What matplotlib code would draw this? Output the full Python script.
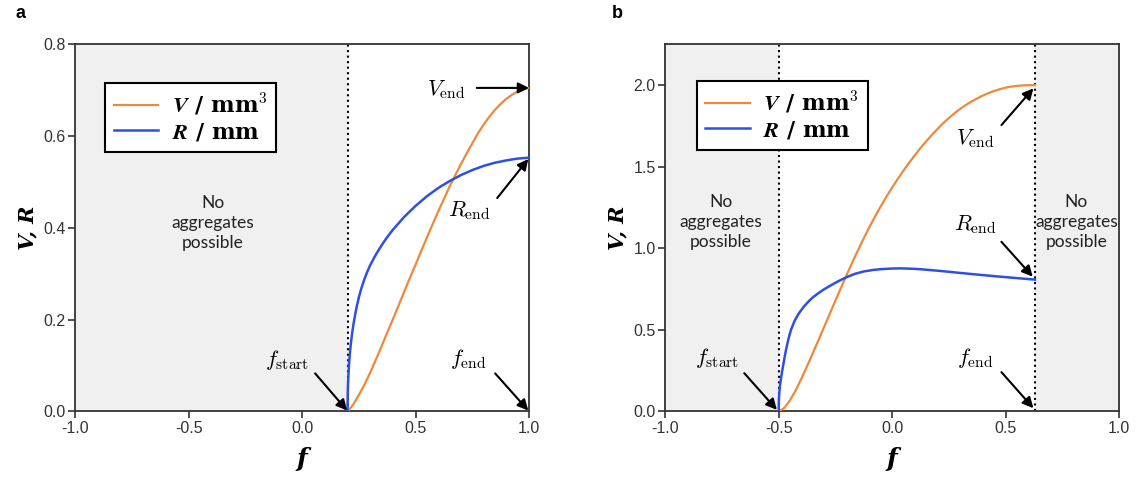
import matplotlib
matplotlib.use("Agg")
import matplotlib.pyplot as plt

plt.rcParams['axes.unicode_minus'] = False
plt.rcParams['mathtext.fontset'] = 'cm'
plt.rcParams['font.family'] = ['Liberation Sans', 'DejaVu Sans']

# panel a: aggregates possible for f_start <= f <= 1
f_a_V = [0.200, 0.225, 0.250, 0.275, 0.300, 0.325, 0.350, 0.375, 0.400, 0.425,
         0.450, 0.475, 0.500, 0.525, 0.550, 0.575, 0.600, 0.625, 0.650, 0.675,
         0.700, 0.725, 0.750, 0.775, 0.800, 0.825, 0.850, 0.875, 0.900, 0.925,
         0.950, 0.975, 1.000]
V_a = [0.000, 0.015, 0.036, 0.059, 0.085, 0.113, 0.142, 0.172, 0.201, 0.231,
       0.261, 0.291, 0.320, 0.350, 0.379, 0.408, 0.436, 0.463, 0.490, 0.515,
       0.539, 0.562, 0.584, 0.606, 0.625, 0.642, 0.657, 0.670, 0.681, 0.690,
       0.697, 0.702, 0.705]
f_a_R = [0.2000, 0.2003, 0.2010, 0.2020, 0.2035, 0.2055, 0.2080, 0.2110, 0.2150,
         0.2200, 0.2260, 0.2330, 0.2410, 0.2500, 0.2600, 0.2720, 0.2850, 0.300,
         0.325, 0.350, 0.375, 0.400, 0.450, 0.500, 0.550, 0.600, 0.650, 0.700,
         0.750, 0.800, 0.850, 0.900, 0.950, 1.000]
R_a = [0.000, 0.020, 0.040, 0.058, 0.076, 0.095, 0.113, 0.131, 0.150,
       0.170, 0.190, 0.210, 0.230, 0.249, 0.267, 0.285, 0.302, 0.319,
       0.342, 0.362, 0.380, 0.396, 0.424, 0.448, 0.469, 0.487, 0.502, 0.515,
       0.526, 0.535, 0.542, 0.547, 0.551, 0.553]

# panel b: aggregates possible for f_start <= f <= f_end
f_b_V = [-0.500, -0.475, -0.450, -0.425, -0.400, -0.375, -0.350, -0.325, -0.300,
         -0.275, -0.250, -0.225, -0.200, -0.175, -0.150, -0.125, -0.100, -0.075,
         -0.050, -0.025, 0.000, 0.025, 0.050, 0.075, 0.100, 0.125, 0.150, 0.175,
         0.200, 0.225, 0.250, 0.275, 0.300, 0.325, 0.350, 0.375, 0.400, 0.425,
         0.450, 0.475, 0.500, 0.525, 0.550, 0.575, 0.600, 0.630]
V_b = [0.000, 0.022, 0.069, 0.130, 0.201, 0.277, 0.356, 0.436, 0.517,
       0.598, 0.679, 0.759, 0.838, 0.915, 0.989, 1.061, 1.130, 1.195,
       1.257, 1.316, 1.372, 1.425, 1.476, 1.524, 1.570, 1.614, 1.655, 1.694,
       1.731, 1.766, 1.798, 1.827, 1.854, 1.878, 1.899, 1.918, 1.936, 1.951,
       1.964, 1.975, 1.984, 1.991, 1.995, 1.998, 1.999, 2.000]
f_b_R = [-0.5000, -0.4997, -0.4990, -0.4975, -0.4955, -0.4930, -0.4905, -0.488,
         -0.484, -0.480, -0.473, -0.466, -0.456, -0.446, -0.430, -0.412, -0.390,
         -0.370, -0.353, -0.330, -0.302, -0.270, -0.243, -0.206, -0.165, -0.125,
         -0.085, -0.050, 0.000, 0.037, 0.100, 0.139, 0.190, 0.243, 0.300, 0.390,
         0.460, 0.536, 0.630]
R_b = [0.000, 0.040, 0.075, 0.110, 0.143, 0.172, 0.197, 0.220,
       0.253, 0.285, 0.340, 0.390, 0.450, 0.500, 0.555, 0.600, 0.641,
       0.672, 0.695, 0.720, 0.747, 0.773, 0.794, 0.820, 0.843, 0.858,
       0.867, 0.872, 0.876, 0.877, 0.874, 0.870, 0.864, 0.857, 0.849, 0.837,
       0.828, 0.819, 0.808]

f_start_a, f_end_a = 0.2, 1.0
f_start_b, f_end_b = -0.5, 0.63

orange = '#f0883a'
blue = '#2d4fe6'
shade = '#f0f0f0'
dark = '#333333'

fig = plt.figure(figsize=(11.4, 4.82), dpi=100)
ax_a = fig.add_axes([0.0662, 0.1463, 0.3978, 0.7618])
ax_b = fig.add_axes([0.5836, 0.1463, 0.3979, 0.7618])

arrow = dict(arrowstyle='-|>', color='black', lw=1.5, mutation_scale=16,
             shrinkA=0, shrinkB=0)
no_agg = dict(ha='center', va='center', fontsize=12.5, family='Lato',
              linespacing=1.3, color='#222222')
lab = dict(ha='center', va='center', fontsize=16)


def style_axes(ax, ymax, yticks):
    ax.set_xlim(-1, 1)
    ax.set_ylim(0, ymax)
    ax.set_xticks([-1.0, -0.5, 0.0, 0.5, 1.0])
    ax.set_xticklabels(['-1.0', '-0.5', '0.0', '0.5', '1.0'])
    ax.set_yticks(yticks)
    ax.set_yticklabels([f'{t:.1f}' for t in yticks])
    ax.tick_params(direction='out', length=5, width=1.2, color=dark,
                   labelsize=11.5, labelcolor='#333333', pad=2)
    for s in ax.spines.values():
        s.set_color(dark)
        s.set_linewidth(1.3)
    ax.set_xlabel('f', family='DejaVu Serif', style='italic', weight='bold',
                  fontsize=18, labelpad=8)
    ax.set_ylabel('V, R', family='DejaVu Serif', style='italic', weight='bold',
                  fontsize=15, labelpad=4)


def add_legend(ax, x0, y0):
    leg = ax.legend(loc='upper left', bbox_to_anchor=(x0, y0), borderaxespad=0,
                    prop={'family': 'DejaVu Serif', 'weight': 'bold', 'size': 16},
                    handlelength=2.0, handletextpad=0.6, labelspacing=0.15,
                    borderpad=0.4, fancybox=False, framealpha=1)
    leg.get_frame().set_edgecolor('black')
    leg.get_frame().set_linewidth(1.5)


V_label = r'$\boldsymbol{V}$ / mm$^{\mathbf{3}}$'
R_label = r'$\boldsymbol{R}$ / mm'

# ---- panel a ----
ax = ax_a
ax.axvspan(-1, f_start_a, color=shade, lw=0, zorder=0)
ax.axvline(f_start_a, color='black', ls=':', lw=1.5, zorder=1)
ax.plot(f_a_V, V_a, color=orange, lw=1.6, label=V_label, zorder=3)
ax.plot(f_a_R, R_a, color=blue, lw=1.8, label=R_label, zorder=3)
style_axes(ax, 0.8, [0.0, 0.2, 0.4, 0.6, 0.8])
add_legend(ax, 0.065, 0.895)
ax.text(-0.395, 0.41, 'No\naggregates\npossible', **no_agg)
ax.annotate('', xy=(1.0, V_a[-1]), xytext=(0.77, V_a[-1]), arrowprops=arrow)
ax.text(0.636, 0.702, r'$V_{\mathrm{end}}$', **lab)
ax.annotate('', xy=(0.997, R_a[-1] - 0.003), xytext=(0.86, 0.465), arrowprops=arrow)
ax.text(0.736, 0.437, r'$R_{\mathrm{end}}$', **lab)
ax.annotate('', xy=(f_start_a - 0.002, 0.002), xytext=(0.057, 0.083), arrowprops=arrow)
ax.text(-0.068, 0.112, r'$f_{\mathrm{start}}$', **lab)
ax.annotate('', xy=(0.997, 0.002), xytext=(0.851, 0.083), arrowprops=arrow)
ax.text(0.733, 0.114, r'$f_{\mathrm{end}}$', **lab)
fig.text(15 / 1140, 1 - 14 / 482, 'a', fontsize=13, weight='bold', va='center')

# ---- panel b ----
ax = ax_b
ax.axvspan(-1, f_start_b, color=shade, lw=0, zorder=0)
ax.axvspan(f_end_b, 1, color=shade, lw=0, zorder=0)
ax.axvline(f_start_b, color='black', ls=':', lw=1.5, zorder=1)
ax.axvline(f_end_b, color='black', ls=':', lw=1.5, zorder=1)
ax.plot(f_b_V, V_b, color=orange, lw=1.6, label=V_label, zorder=3)
ax.plot(f_b_R, R_b, color=blue, lw=1.8, label=R_label, zorder=3)
style_axes(ax, 2.25, [0.0, 0.5, 1.0, 1.5, 2.0])
add_legend(ax, 0.069, 0.90)
ax.text(-0.756, 1.163, 'No\naggregates\npossible', **no_agg)
ax.text(0.813, 1.163, 'No\naggregates\npossible', **no_agg)
ax.annotate('', xy=(0.623, 1.98), xytext=(0.482, 1.755), arrowprops=arrow)
ax.text(0.367, 1.673, r'$V_{\mathrm{end}}$', **lab)
ax.annotate('', xy=(0.62, 0.826), xytext=(0.482, 1.04), arrowprops=arrow)
ax.text(0.367, 1.143, r'$R_{\mathrm{end}}$', **lab)
ax.annotate('', xy=(-0.508, 0.01), xytext=(-0.652, 0.235), arrowprops=arrow)
ax.text(-0.772, 0.327, r'$f_{\mathrm{start}}$', **lab)
ax.annotate('', xy=(0.623, 0.02), xytext=(0.482, 0.241), arrowprops=arrow)
ax.text(0.367, 0.33, r'$f_{\mathrm{end}}$', **lab)
fig.text(612 / 1140, 1 - 14 / 482, 'b', fontsize=13, weight='bold', va='center')

fig.savefig('out.png', dpi=100)
